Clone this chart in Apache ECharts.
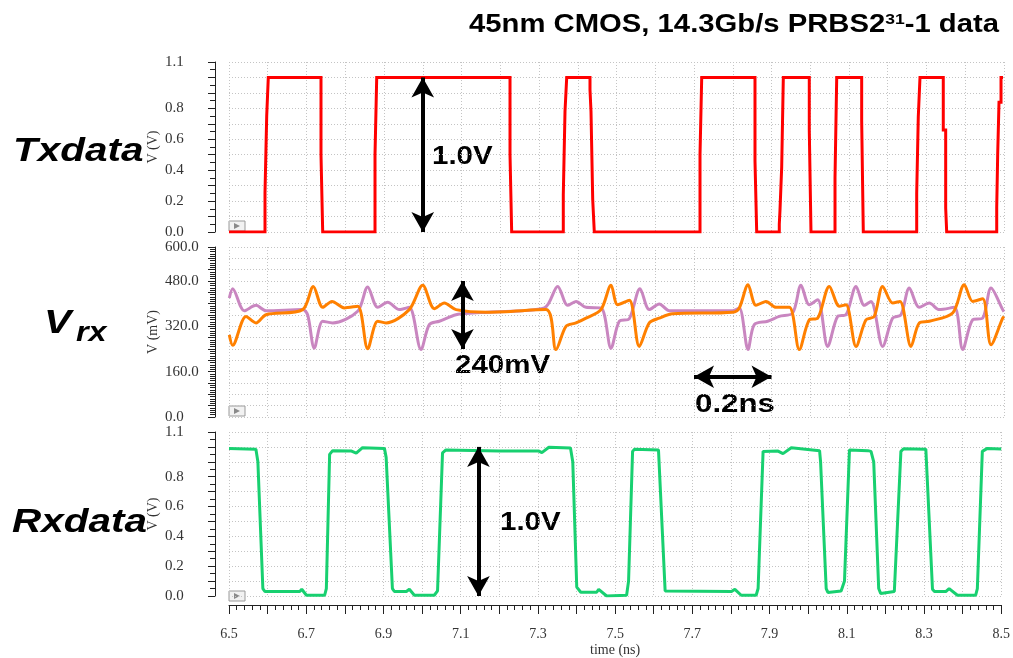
<!DOCTYPE html>
<html>
<head>
<meta charset="utf-8">
<script src="https://cdn.jsdelivr.net/npm/echarts@6/dist/echarts.min.js"></script>
<style>
  html, body { margin: 0; padding: 0; background: #fff; }
  #main { width: 1013px; height: 658px; }
</style>
</head>
<body>
<div id="main"></div>
<script>
// values: [time (ns), volts] / [time (ns), mV]
var txData = [
  [6.5,0],[6.5929,0],[6.5929,0.25],[6.5973,0.25],[6.5973,0.75],[6.6014,0.75],[6.6014,1.0],
  [6.7374,1.0],[6.7374,0.5],[6.7418,0.5],[6.7418,0],
  [6.8768,0],[6.8768,0.5],[6.8812,0.5],[6.8812,1.0],
  [7.2252,1.0],[7.2252,0.5],[7.2295,0.5],[7.2295,0],
  [7.3627,0],[7.3627,0.24],[7.3671,0.24],[7.3671,0.78],[7.3715,0.78],[7.3715,1.0],
  [7.4316,1.0],[7.4316,0.92],[7.4342,0.92],[7.4342,0.78],[7.4386,0.78],[7.4386,0.21],[7.4427,0.21],[7.4427,0],
  [7.7155,0],[7.7155,0.5],[7.7199,0.5],[7.7199,1.0],
  [7.8574,1.0],[7.8574,0.46],[7.8618,0.46],[7.8618,0],
  [7.9201,0],[7.9201,0.05],[7.9219,0.05],[7.9219,0.14],[7.9263,0.14],[7.9263,0.42],[7.9305,0.42],[7.9305,1.0],
  [7.9975,1.0],[7.9975,0.66],[8.0019,0.66],[8.0019,0],
  [8.0639,0],[8.0639,0.35],[8.0683,0.35],[8.0683,1.0],
  [8.1327,1.0],[8.1327,0.72],[8.1369,0.72],[8.1369,0],
  [8.2747,0],[8.2747,0.25],[8.2788,0.25],[8.2788,0.745],[8.2832,0.745],[8.2832,1.0],
  [8.3433,1.0],[8.3433,0.66],[8.3495,0.66],[8.3495,0.155],[8.3521,0.155],[8.3521,0],
  [8.4812,0],[8.4812,0.16],[8.4837,0.16],[8.4837,0.5],[8.4871,0.5],[8.4871,0.84],[8.4923,0.84],[8.4923,1.0],[8.4975,1.0]
];

var vrxPurple = [
  [6.5008,420],[6.5095,453],[6.5395,375],[6.5697,394],[6.5955,375],[6.6902,379],[6.7031,360],
  [6.7201,243],[6.7418,338],[6.7676,332],[6.8321,373],[6.8579,459],[6.8837,387],[6.9095,405],
  [6.9395,379],[6.9653,387],[6.9955,238],[7.0169,326],[7.0427,338],[7.0858,361],[7.1289,367],
  [7.1684,370],[7.3137,385],[7.3482,461],[7.3740,394],[7.3955,408],[7.4213,387],[7.4600,385],
  [7.4858,243],[7.5072,338],[7.5330,347],[7.5606,453],[7.5846,379],[7.6104,399],[7.6363,375],
  [7.7998,375],[7.8169,385],[7.8394,238],[7.8556,326],[7.8902,338],[7.9201,355],[7.9547,367],
  [7.9761,465],[7.9975,396],[8.0192,414],[8.0450,249],[8.0708,355],[8.0923,361],[8.1181,461],
  [8.1395,394],[8.1568,408],[8.1869,249],[8.2127,349],[8.2342,361],[8.2556,455],[8.2814,387],
  [8.3072,402],[8.3330,379],[8.3717,387],[8.3934,238],[8.4192,343],[8.4450,349],[8.4665,455],
  [8.4966,379],[8.5,372]
];

var vrxOrange = [
  [6.5008,290],[6.5095,253],[6.5439,355],[6.5697,332],[6.5955,361],[6.6902,379],[6.7175,461],
  [6.7418,387],[6.7658,408],[6.7975,385],[6.8321,391],[6.8579,241],[6.8837,338],[6.9052,332],
  [6.9653,379],[6.9999,465],[7.0298,382],[7.0556,402],[7.0858,379],[7.1684,370],[7.3181,379],
  [7.3438,238],[7.3697,320],[7.3955,332],[7.4213,349],[7.4600,379],[7.4858,465],[7.5031,396],
  [7.5330,412],[7.5588,249],[7.5846,332],[7.6104,349],[7.6450,364],[7.7998,370],[7.8169,385],
  [7.8394,467],[7.8600,394],[7.8858,408],[7.9116,387],[7.9459,387],[7.9717,238],[7.9975,343],
  [8.0192,349],[8.0492,461],[8.0750,391],[8.0923,396],[8.1181,249],[8.1439,343],[8.1652,355],
  [8.1869,461],[8.2127,402],[8.2316,408],[8.2600,249],[8.2814,332],[8.3072,338],[8.3675,367],
  [8.3974,467],[8.4192,408],[8.4450,417],[8.4665,255],[8.4966,349],[8.5,355]
];

var rxData = [
  [6.5,0.99],[6.5697,0.985],[6.5748,0.90],[6.5877,0.05],[6.5929,0.03],[6.6832,0.03],[6.6884,0.045],
  [6.7005,0.005],[6.7477,0.005],[6.7521,0.05],[6.7606,0.95],[6.7684,0.975],[6.8174,0.972],
  [6.8295,0.958],[6.8458,0.995],[6.9026,0.99],[6.9070,0.93],[6.9232,0.05],[6.9284,0.03],
  [6.9594,0.03],[6.9671,0.045],[6.9800,0.005],[7.0316,0.005],[7.0401,0.035],[7.0530,0.96],
  [7.0618,0.98],[7.1994,0.973],[7.3026,0.972],[7.3103,0.962],[7.3284,0.998],[7.3844,0.993],
  [7.3903,0.90],[7.4006,0.06],[7.4110,0.025],[7.4523,0.025],[7.4574,0.045],[7.4781,0.0],
  [7.5297,0.005],[7.5348,0.1],[7.5452,0.97],[7.5503,0.985],[7.6123,0.98],[7.6295,0.034],
  [7.6329,0.028],[7.8014,0.03],[7.8102,0.045],[7.8265,0.005],[7.8652,0.005],[7.8703,0.05],
  [7.8832,0.97],[7.9219,0.972],[7.9348,0.955],[7.9562,0.994],[8.0295,0.975],[8.0321,0.90],
  [8.0466,0.05],[8.0510,0.024],[8.0853,0.034],[8.0940,0.1],[8.1069,0.98],[8.1542,0.975],
  [8.1627,0.97],[8.1697,0.9],[8.1826,0.05],[8.1877,0.017],[8.2231,0.03],[8.2401,0.97],
  [8.2471,0.988],[8.3047,0.985],[8.3219,0.045],[8.3271,0.03],[8.3563,0.03],[8.3650,0.05],
  [8.3865,0.005],[8.4337,0.005],[8.4381,0.05],[8.4510,0.97],[8.4639,0.99],[8.5,0.986]
];

// tick labels that the plot shows
var voltTickLabels = [0, 0.2, 0.4, 0.6, 0.8, 1.1];
var mvTickLabels = [0, 160, 320, 480, 600];
var timeTickLabels = [6.5, 6.7, 6.9, 7.1, 7.3, 7.5, 7.7, 7.9, 8.1, 8.3, 8.5];

function inList(list, v) {
  return list.some(function (x) { return Math.abs(x - v) < 1e-6; });
}

var serif = 'Liberation Serif';
var sans = 'Liberation Sans';
var gridTops = [62, 247, 432];
var gridDots = { color: '#c4c4c4', type: [1, 2], width: 1 };

var xAxes = gridTops.map(function (t, i) {
  var bottom = i === 2;
  return {
    type: 'value', gridIndex: i, min: 6.5, max: 8.5, interval: 0.1,
    offset: bottom ? 9 : 0,
    splitLine: { show: true, lineStyle: gridDots },
    axisLine: { show: bottom, onZero: false, lineStyle: { color: '#222', width: 1 } },
    axisTick: { show: bottom, length: 9, lineStyle: { color: '#222' } },
    minorTick: { show: bottom, splitNumber: 5, length: 5, lineStyle: { color: '#222' } },
    axisLabel: {
      show: bottom, margin: 22, color: '#333', fontFamily: serif, fontSize: 14,
      formatter: function (v) { return inList(timeTickLabels, v) ? v.toFixed(1) : ''; }
    },
    name: bottom ? 'time (ns)' : '',
    nameLocation: 'middle', nameGap: 38, nameMoveOverlap: false,
    nameTextStyle: { color: '#333', fontFamily: serif, fontSize: 14 }
  };
});

function yAxis(i, max, interval, minorSplit, labels, name) {
  return {
    type: 'value', gridIndex: i, min: 0, max: max, interval: interval, offset: 14,
    axisLine: { show: true, onZero: false, lineStyle: { color: '#222', width: 1 } },
    axisTick: { show: true, length: 7, lineStyle: { color: '#222' } },
    minorTick: { show: true, splitNumber: minorSplit, length: 5, lineStyle: { color: '#222' } },
    splitLine: { show: true, lineStyle: gridDots },
    axisLabel: {
      margin: 50, align: 'left', color: '#333', fontFamily: serif, fontSize: 15,
      formatter: function (v) { return inList(labels, v) ? v.toFixed(1) : ''; }
    },
    name: name, nameLocation: 'middle', nameGap: 55, nameMoveOverlap: false,
    nameTextStyle: { color: '#333', fontFamily: serif, fontSize: 14 }
  };
}

function arrowLine(from, to) {
  return {
    silent: true, animation: false,
    symbol: ['arrow', 'arrow'], symbolSize: [17, 20],
    lineStyle: { color: '#000', width: 4, type: 'solid' },
    label: { show: false },
    data: [[{ coord: from }, { coord: to }]]
  };
}

function playBox(y) {
  return [
    { type: 'rect', shape: { x: 229, y: y - 11, width: 16, height: 10 },
      style: { fill: '#f2f2f2', stroke: '#9a9a9a', lineWidth: 1 } },
    { type: 'polygon', shape: { points: [[234, y - 9], [234, y - 3], [240, y - 6]] },
      style: { fill: '#8a8a8a' } }
  ];
}

function bigText(str, x, y, size, sx, italic) {
  return {
    type: 'text', x: x, y: y, scaleX: sx,
    style: { text: str, fill: '#000',
             font: (italic ? 'italic ' : '') + 'bold ' + size + 'px "' + sans + '"',
             textAlign: 'left', textVerticalAlign: 'middle' }
  };
}

var chart = echarts.init(document.getElementById('main'), null, { renderer: 'canvas' });

chart.setOption({
  animation: false,
  backgroundColor: '#fff',
  grid: gridTops.map(function (t) {
    return { left: 229, right: 9, top: t, height: 170, containLabel: false };
  }),
  xAxis: xAxes,
  yAxis: [
    yAxis(0, 1.1, 0.1, 2, voltTickLabels, 'V (V)'),
    yAxis(1, 600, 40, 5, mvTickLabels, 'V (mV)'),
    yAxis(2, 1.1, 0.1, 2, voltTickLabels, 'V (V)')
  ],
  series: [
    { type: 'line', xAxisIndex: 0, yAxisIndex: 0, data: txData, showSymbol: false,
      lineStyle: { color: '#ff0000', width: 3, join: 'miter' },
      markLine: arrowLine([7.0, 0], [7.0, 1.0]) },
    { type: 'line', xAxisIndex: 1, yAxisIndex: 1, data: vrxPurple, showSymbol: false,
      smooth: 0.3, lineStyle: { color: '#c986c0', width: 3 } },
    { type: 'line', xAxisIndex: 1, yAxisIndex: 1, data: vrxOrange, showSymbol: false,
      smooth: 0.3, lineStyle: { color: '#ff8000', width: 3 },
      markLine: {
        silent: true, animation: false,
        symbol: ['arrow', 'arrow'], symbolSize: [17, 20],
        lineStyle: { color: '#000', width: 4, type: 'solid' },
        label: { show: false },
        data: [
          [{ coord: [7.1025, 240] }, { coord: [7.1025, 480] }],
          [{ coord: [7.7, 142] }, { coord: [7.9, 142] }]
        ]
      } },
    { type: 'line', xAxisIndex: 2, yAxisIndex: 2, data: rxData, showSymbol: false,
      lineStyle: { color: '#18d070', width: 3 },
      markLine: arrowLine([7.146, 0], [7.146, 1.0]) }
  ],
  graphic: [].concat(
    playBox(232), playBox(417), playBox(602),
    [
      { type: 'text', x: 999, y: 25, scaleX: 1.17,
        style: { text: '{a|45nm CMOS, 14.3Gb/s PRBS2}{s|31}{a|-1 data}',
                 textAlign: 'right', textVerticalAlign: 'middle',
                 rich: {
                   a: { fontFamily: sans, fontWeight: 'bold', fontSize: 25, fill: '#000' },
                   s: { fontFamily: sans, fontWeight: 'bold', fontSize: 15, fill: '#000',
                        verticalAlign: 'top', padding: [0, 0, 11, 0] }
                 } } },
      bigText('Txdata', 13, 152, 34, 1.19, true),
      bigText('V', 44, 324, 34, 1.2, true),
      bigText('rx', 76, 334, 27, 1.2, true),
      bigText('Rxdata', 12, 523, 34, 1.19, true),
      bigText('1.0V', 432, 157, 25, 1.18),
      bigText('240mV', 455, 366, 25, 1.18),
      bigText('0.2ns', 695, 405, 25, 1.25),
      bigText('1.0V', 500, 523, 25, 1.18)
    ]
  )
});
</script>
</body>
</html>
